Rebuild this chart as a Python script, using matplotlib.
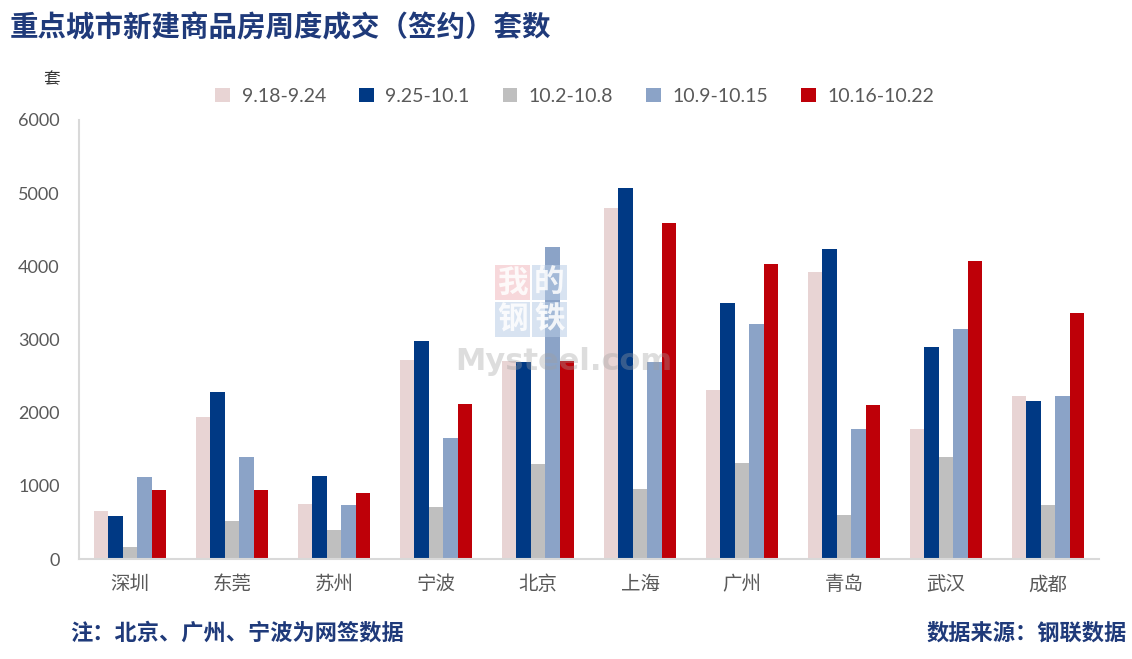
import matplotlib
matplotlib.use("Agg")
import matplotlib.pyplot as plt
import numpy as np
from matplotlib.patches import Rectangle

# --------------------------------------------------------------------------
# Data
# --------------------------------------------------------------------------
cities = ["深圳", "东莞", "苏州", "宁波", "北京", "上海", "广州", "青岛", "武汉", "成都"]
weeks = ["9.18-9.24", "9.25-10.1", "10.2-10.8", "10.9-10.15", "10.16-10.22"]

w_0918 = [660, 1940, 750, 2720, 2700, 4800, 2310, 3920, 1780, 2230]
w_0925 = [590, 2280, 1135, 2980, 2695, 5070, 3500, 4240, 2900, 2160]
w_1002 = [165, 520, 400, 710, 1300, 960, 1310, 600, 1395, 740]
w_1009 = [1120, 1395, 740, 1655, 4265, 2695, 3210, 1780, 3145, 2230]
w_1016 = [945, 945, 905, 2120, 2710, 4595, 4035, 2105, 4075, 3365]

series = [w_0918, w_0925, w_1002, w_1009, w_1016]
colors = ["#E8D4D4", "#003984", "#BFBFBF", "#8BA3C7", "#BE0008"]

yticks = [0, 1000, 2000, 3000, 4000, 5000, 6000]

CJK = ["Noto Sans CJK SC", "DejaVu Sans"]
NUM = ["Lato", "DejaVu Sans"]
NAVY = "#1F3A7A"
GREY_TXT = "#595959"

# --------------------------------------------------------------------------
# Chart
# --------------------------------------------------------------------------
fig = plt.figure(figsize=(11.32, 6.59), dpi=100)
ax = fig.add_axes([79 / 1132, 1 - 559 / 659, 1020 / 1132, 439 / 659])

x = np.arange(len(cities))
bw = 0.143
for i, (vals, col) in enumerate(zip(series, colors)):
    ax.bar(x + (i - 2) * bw, vals, width=bw, color=col, label=weeks[i],
           linewidth=0, zorder=2)

ax.set_xlim(-0.5, len(cities) - 0.5)
ax.set_ylim(0, 6000)
ax.set_yticks(yticks)
ax.set_yticklabels([str(t) for t in yticks], family=NUM, fontsize=13,
                   color=GREY_TXT)
ax.set_xticks(x)
ax.set_xticklabels(cities, family=CJK, fontsize=14, color=GREY_TXT)
ax.tick_params(axis="both", length=0)
ax.tick_params(axis="x", pad=11)
ax.tick_params(axis="y", pad=14)

for side in ["top", "right"]:
    ax.spines[side].set_visible(False)
for side in ["left", "bottom"]:
    ax.spines[side].set_color("#D9D9D9")
    ax.spines[side].set_linewidth(1.5)

# legend along the top
leg = fig.legend(loc="center", bbox_to_anchor=(575 / 1132, 1 - 96 / 659),
                 ncol=5, frameon=False, handlelength=0.75, handleheight=0.75,
                 handletextpad=0.6, columnspacing=1.7,
                 prop={"family": NUM, "size": 14})
for t in leg.get_texts():
    t.set_color(GREY_TXT)

# titles and notes
fig.text(10 / 1132, 1 - 28 / 659, "重点城市新建商品房周度成交（签约）套数",
         family=CJK, fontsize=20.5, fontweight="bold", color=NAVY,
         ha="left", va="center")
fig.text(52 / 1132, 1 - 80 / 659, "套", family=CJK, fontsize=12,
         color="#333333", ha="center", va="center")
fig.text(70 / 1132, 1 - 633 / 659, "注：北京、广州、宁波为网签数据",
         family=CJK, fontsize=16, fontweight="bold", color=NAVY,
         ha="left", va="center")
fig.text(1127 / 1132, 1 - 633 / 659, "数据来源：钢联数据",
         family=CJK, fontsize=16, fontweight="bold", color=NAVY,
         ha="right", va="center")

# watermark
boxes = [("我", 495, 265, "#F2B8BE"), ("的", 532, 265, "#B8CCE6"),
         ("钢", 495, 302, "#B8CCE6"), ("铁", 532, 302, "#B8CCE6")]
for ch, bx, by, bc in boxes:
    fig.patches.append(Rectangle((bx / 1132, 1 - (by + 35) / 659), 35 / 1132,
                                 35 / 659, transform=fig.transFigure,
                                 facecolor=bc, alpha=0.55, edgecolor="none",
                                 zorder=5))
    fig.text((bx + 17.5) / 1132, 1 - (by + 17.5) / 659, ch, family=CJK,
             fontsize=22, fontweight="bold", color="white", alpha=0.85,
             ha="center", va="center", zorder=6)
fig.text(564 / 1132, 1 - 362 / 659, "Mysteel.com", family=["DejaVu Sans"],
         fontsize=22, fontweight="bold", color="#A0A0A0", alpha=0.35,
         ha="center", va="center", zorder=6)

fig.savefig("out.png", dpi=100)
plt.close(fig)
